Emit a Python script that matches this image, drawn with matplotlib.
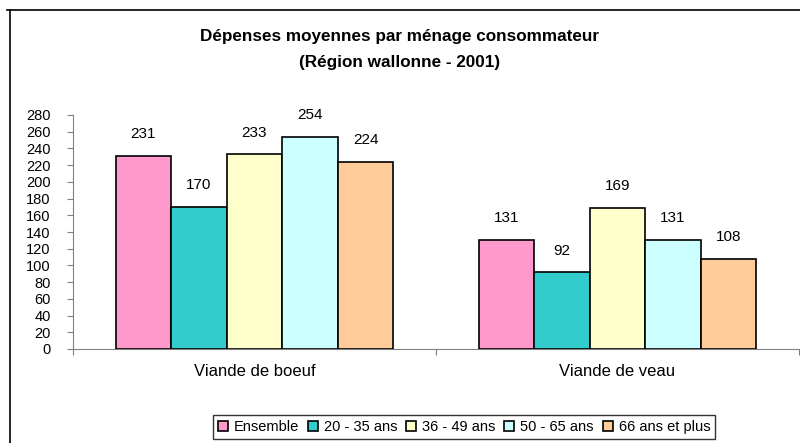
import matplotlib
matplotlib.use('Agg')
import matplotlib.pyplot as plt
from matplotlib.lines import Line2D
import numpy as np

plt.rcParams['font.family'] = ['Liberation Sans', 'DejaVu Sans']

categories = ['Viande de boeuf', 'Viande de veau']
series = ['Ensemble', '20 - 35 ans', '36 - 49 ans', '50 - 65 ans', '66 ans et plus']
values = {
    'Ensemble': [231, 131],
    '20 - 35 ans': [170, 92],
    '36 - 49 ans': [233, 169],
    '50 - 65 ans': [254, 131],
    '66 ans et plus': [224, 108],
}
colors = ['#FF99CC', '#33CCCC', '#FFFFCC', '#CCFFFF', '#FFCC99']
yticks = np.arange(0, 281, 20)

fig = plt.figure(figsize=(8, 4.43), dpi=100)
ax = fig.add_axes([73/800, 1 - 349/443, 726/800, 234/443])

x = np.arange(len(categories)) + 0.5
w = 0.153
for i, (name, col) in enumerate(zip(series, colors)):
    pos = x + (i - 2) * w
    bars = ax.bar(pos, values[name], w, color=col, edgecolor='black',
                  linewidth=1.2, label=name, zorder=3)
    for b, v in zip(bars, values[name]):
        ax.annotate(str(v), (b.get_x() + b.get_width()/2, v),
                    xytext=(0, 10.5), textcoords='offset points',
                    ha='center', va='bottom', fontsize=11)

ax.set_xlim(0, 2)
ax.set_ylim(0, 280)
ax.set_yticks(yticks)
ax.tick_params(axis='y', labelsize=10.5, length=4, color='#808080', pad=12)
for lab in ax.get_yticklabels():
    lab.set_horizontalalignment('right')
ax.set_xticks([0, 1, 2])
ax.set_xticklabels([])
ax.set_xticks(x, minor=True)
ax.set_xticklabels(categories, minor=True, fontsize=12)
ax.tick_params(axis='x', which='major', length=4, color='#808080')
ax.tick_params(axis='x', which='minor', length=0, pad=11)
for s in ['top', 'right']:
    ax.spines[s].set_visible(False)
for s in ['left', 'bottom']:
    ax.spines[s].set_color('#808080')

fig.text(0.5, 1 - 37/443, 'Dépenses moyennes par ménage consommateur',
         ha='center', va='center', fontsize=12.3, fontweight='bold')
fig.text(0.5, 1 - 63/443, '(Région wallonne - 2001)',
         ha='center', va='center', fontsize=12.3, fontweight='bold')

leg = fig.legend(loc='center', bbox_to_anchor=(464/800, 1 - 427/443), ncol=5,
                 fontsize=10.5, frameon=True, fancybox=False,
                 handlelength=0.7, handleheight=0.7, handletextpad=0.4,
                 columnspacing=0.6, borderpad=0.35, edgecolor='black')
leg.get_frame().set_linewidth(1)

# chart area border (clipped at right and bottom)
fig.add_artist(Line2D([10/800, 10/800], [0, 1 - 10/443], color='black', lw=1.2))
fig.add_artist(Line2D([7/800, 1], [1 - 10/443, 1 - 10/443], color='black', lw=1.2))

fig.savefig('out.png', dpi=100)
